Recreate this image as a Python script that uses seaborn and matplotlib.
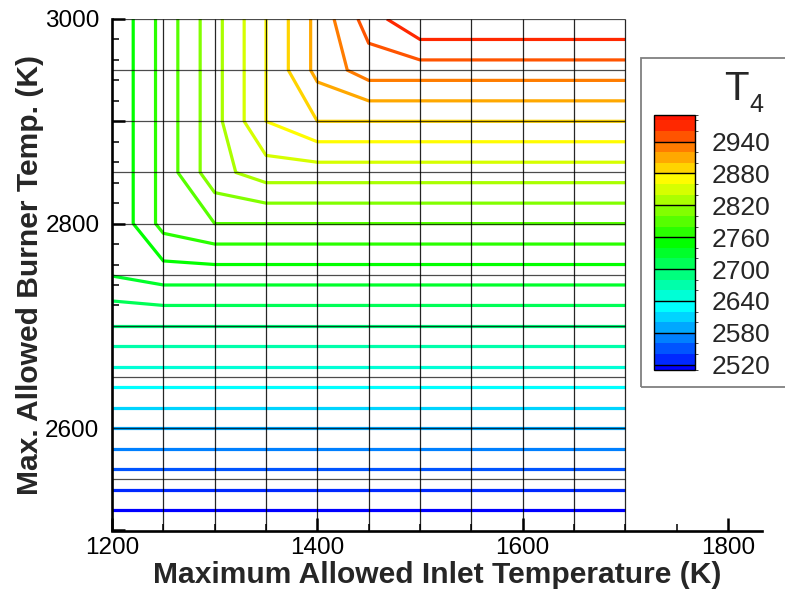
import numpy as np
import matplotlib
matplotlib.use("Agg")
import matplotlib.pyplot as plt
import seaborn as sns
from matplotlib.colors import LinearSegmentedColormap, ListedColormap, BoundaryNorm, Normalize
from matplotlib.cm import ScalarMappable
from matplotlib.patches import Rectangle
from matplotlib.ticker import MultipleLocator, FixedLocator, FixedFormatter

# ---------------- data ----------------
inlet_temp = [1200, 1250, 1300, 1350, 1400, 1450, 1500, 1550, 1600, 1650, 1700]
burner_temp = [2500, 2550, 2600, 2650, 2700, 2750, 2800, 2850, 2900, 2950, 3000]
# T4 on the mesh: one row per burner temperature, one column per inlet temperature
t4_rows = [
    [2500, 2500, 2500, 2500, 2500, 2500, 2500, 2500, 2500, 2500, 2500],
    [2550, 2550, 2550, 2550, 2550, 2550, 2550, 2550, 2550, 2550, 2550],
    [2600, 2600, 2600, 2600, 2600, 2600, 2600, 2600, 2600, 2600, 2600],
    [2650, 2650, 2650, 2650, 2650, 2650, 2650, 2650, 2650, 2650, 2650],
    [2700, 2700, 2700, 2700, 2700, 2700, 2700, 2700, 2700, 2700, 2700],
    [2741, 2750, 2750, 2750, 2750, 2750, 2750, 2750, 2750, 2750, 2750],
    [2741, 2787, 2800, 2800, 2800, 2800, 2800, 2800, 2800, 2800, 2800],
    [2741, 2787, 2833, 2850, 2850, 2850, 2850, 2850, 2850, 2850, 2850],
    [2741, 2787, 2833, 2880, 2900, 2900, 2900, 2900, 2900, 2900, 2900],
    [2741, 2787, 2833, 2880, 2926, 2950, 2950, 2950, 2950, 2950, 2950],
    [2741, 2787, 2833, 2880, 2926, 2969, 3000, 3000, 3000, 3000, 3000],
]
contour_levels = [2520, 2540, 2560, 2580, 2600, 2620, 2640, 2660, 2680, 2700, 2720, 2740,
                  2760, 2780, 2800, 2820, 2840, 2860, 2880, 2900, 2920, 2940, 2960, 2980]
legend_labels = [2520, 2580, 2640, 2700, 2760, 2820, 2880, 2940]
x_tick_labels = [1200, 1400, 1600, 1800]
y_tick_labels = [2600, 2800, 3000]

# ---------------- style ----------------
sns.set_style("ticks")
plt.rcParams["font.family"] = ["Liberation Sans", "DejaVu Sans"]

W, H = 785, 592
fig = plt.figure(figsize=(W / 100, H / 100), dpi=100)
fig.patch.set_facecolor("white")

ax_l, ax_r, ax_t, ax_b = 112, 762, 19, 530.5
ax = fig.add_axes([ax_l / W, 1 - ax_b / H, (ax_r - ax_l) / W, (ax_b - ax_t) / H])
ax.set_facecolor("white")

cmap = LinearSegmentedColormap.from_list(
    "small_rainbow", [(0, 0, 1), (0, 1, 1), (0, 1, 0), (1, 1, 0), (1, 0, 0)])
norm = Normalize(2520, 3000)

X, Y = np.meshgrid(inlet_temp, burner_temp)
Z = np.array(t4_rows, dtype=float)
line_colors = [cmap(norm(v)) for v in contour_levels]
ax.contour(X, Y, Z, levels=contour_levels, colors=line_colors, linewidths=2.3, zorder=2)

# mesh lines
ax.vlines(inlet_temp[1:], burner_temp[0], burner_temp[-1], colors="black",
          linewidth=0.9, alpha=0.85, zorder=3)
ax.hlines(burner_temp[1:], inlet_temp[0], inlet_temp[-1], colors="black",
          linewidth=0.9, alpha=0.7, zorder=3)

ax.set_xlim(1200, 1200 + (ax_r - ax_l) / 1.0267)
ax.set_ylim(2500, 3000)

for s in ["top", "right"]:
    ax.spines[s].set_visible(False)
for s in ["left", "bottom"]:
    ax.spines[s].set_linewidth(1.9)
    ax.spines[s].set_color("black")
    ax.spines[s].set_zorder(5)

ax.xaxis.set_major_locator(FixedLocator(x_tick_labels))
ax.xaxis.set_major_formatter(FixedFormatter([str(v) for v in x_tick_labels]))
ax.xaxis.set_minor_locator(MultipleLocator(50))
y_major = [2500, 2600, 2700, 2800, 2900, 3000]
ax.yaxis.set_major_locator(FixedLocator(y_major))
ax.yaxis.set_major_formatter(FixedFormatter([str(v) if v in y_tick_labels else "" for v in y_major]))
ax.yaxis.set_minor_locator(MultipleLocator(20))
ax.tick_params(which="major", direction="in", length=9.5, width=1.8, labelsize=17.5,
               color="black", labelcolor="black")
ax.tick_params(which="minor", direction="in", length=5, width=1.1, color="black")
ax.tick_params(axis="y", which="major", pad=9)
ax.tick_params(axis="x", which="major", pad=5)

ax.set_xlabel("Maximum Allowed Inlet Temperature (K)", fontsize=21.6, fontweight="bold")
ax.set_ylabel("Max. Allowed Burner Temp. (K)", fontsize=21.6, fontweight="bold")
ax.xaxis.set_label_coords(0.5, -(561 - ax_b) / (ax_b - ax_t))
ax.yaxis.set_label_coords(-(ax_l - 44) / (ax_r - ax_l), 0.5)

# ---------------- legend ----------------
box = Rectangle((641 / W, 1 - 387 / H), (800 - 641) / W, (387 - 58) / H,
                transform=fig.transFigure, fill=False, edgecolor="#808080", linewidth=1.3)
fig.add_artist(box)

cax = fig.add_axes([654 / W, 1 - 370 / H, 41 / W, 255 / H])
edges = [2510] + contour_levels + [2990]
band_colors = [cmap(norm(min(e, 3000))) for e in edges[1:]]
bnorm = BoundaryNorm(edges, len(band_colors))
sm = ScalarMappable(norm=bnorm, cmap=ListedColormap(band_colors))
cb = fig.colorbar(sm, cax=cax, spacing="proportional", ticks=legend_labels)
cb.outline.set_linewidth(1.0)
cb.outline.set_edgecolor("black")
cax.tick_params(length=0, labelsize=19, pad=12)
for v in legend_labels:
    cax.axhline(v, color="black", linewidth=1.0)

fig.text(724 / W, 1 - 100 / H, "T", fontsize=29, ha="left", va="baseline")
fig.text(749 / W, 1 - 112 / H, "4", fontsize=18, ha="left", va="baseline")

fig.savefig("out.png", dpi=100, facecolor="white")
